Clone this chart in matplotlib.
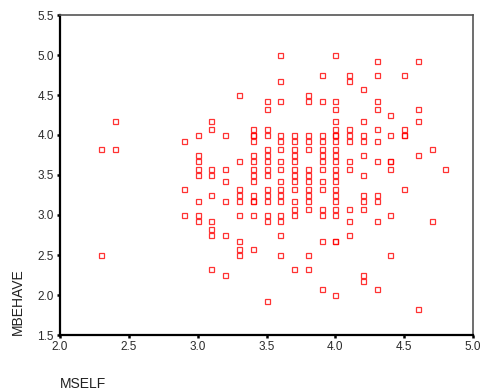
import matplotlib
matplotlib.use('Agg')
import matplotlib.pyplot as plt

# MSELF levels (x) and the MBEHAVE values observed at each level (y)
mself_levels = [2.3, 2.4, 2.9, 3.0, 3.1, 3.2, 3.3, 3.4, 3.5, 3.6, 3.7,
                3.8, 3.9, 4.0, 4.1, 4.2, 4.3, 4.4, 4.5, 4.6, 4.7, 4.8]
mbehave_by_level = [
    [3.83, 2.5],
    [4.17, 3.83],
    [3.92, 3.33, 3.0],
    [4.0, 3.75, 3.67, 3.58, 3.5, 3.17, 3.0, 2.92],
    [4.17, 4.08, 3.58, 3.5, 3.25, 2.92, 2.83, 2.75, 2.33],
    [4.0, 3.58, 3.42, 3.17, 2.75, 2.25],
    [4.5, 3.67, 3.33, 3.25, 3.17, 3.0, 2.67, 2.58, 2.5],
    [4.08, 4.0, 4.0, 3.92, 3.75, 3.67, 3.58, 3.5, 3.42, 3.25, 3.17, 3.17, 3.0, 2.58],
    [4.42, 4.33, 4.08, 4.0, 3.83, 3.75, 3.67, 3.58, 3.5, 3.33, 3.25, 3.17, 3.0, 2.92, 1.92],
    [5.0, 4.67, 4.42, 4.0, 3.92, 3.83, 3.67, 3.58, 3.42, 3.33, 3.25, 3.17, 3.0, 2.92, 2.75, 2.5],
    [4.0, 3.92, 3.83, 3.75, 3.67, 3.58, 3.5, 3.42, 3.33, 3.17, 3.08, 3.0, 2.33],
    [4.5, 4.42, 4.0, 3.92, 3.83, 3.58, 3.5, 3.42, 3.33, 3.25, 3.17, 3.08, 2.5, 2.33],
    [4.75, 4.42, 4.0, 3.92, 3.83, 3.75, 3.67, 3.58, 3.42, 3.33, 3.08, 3.0, 2.67, 2.08],
    [5.0, 4.42, 4.33, 4.17, 4.08, 4.0, 4.0, 3.92, 3.83, 3.75, 3.67, 3.58, 3.5, 3.42,
     3.33, 3.25, 3.17, 3.08, 3.0, 2.67, 2.67, 2.0],
    [4.75, 4.67, 4.08, 4.0, 3.92, 3.67, 3.58, 3.08, 2.92, 2.75],
    [4.58, 4.17, 4.0, 3.92, 3.75, 3.5, 3.25, 3.17, 3.08, 2.25, 2.17],
    [4.92, 4.75, 4.42, 4.33, 4.08, 3.92, 3.67, 3.25, 3.17, 2.92, 2.08],
    [4.25, 4.0, 3.67, 3.67, 3.58, 3.0, 2.5],
    [4.75, 4.08, 4.0, 4.0, 3.33],
    [4.92, 4.33, 4.17, 3.75, 1.83],
    [3.83, 2.92],
    [3.58],
]
x_ticks = [2.0, 2.5, 3.0, 3.5, 4.0, 4.5, 5.0]
y_ticks = [1.5, 2.0, 2.5, 3.0, 3.5, 4.0, 4.5, 5.0, 5.5]

mself = []
mbehave = []
for x, ys in zip(mself_levels, mbehave_by_level):
    for y in ys:
        mself.append(x)
        mbehave.append(y)

plt.rcParams['font.family'] = ['Liberation Sans', 'DejaVu Sans']

fig = plt.figure(figsize=(4.8, 3.9), dpi=100)
ax = fig.add_axes([60 / 480, 1 - 335 / 390, 413 / 480, 320 / 390])

ax.plot(mself, mbehave, linestyle='none', marker='s', markersize=3.6,
        markerfacecolor='none', markeredgecolor='#ff0000', markeredgewidth=0.9,
        alpha=0.8)

ax.set_xlim(2.0, 5.0)
ax.set_ylim(1.5, 5.5)
ax.set_xticks(x_ticks)
ax.set_yticks(y_ticks)
ax.set_xticklabels([f'{v:.1f}' for v in x_ticks])
ax.set_yticklabels([f'{v:.1f}' for v in y_ticks])
ax.tick_params(direction='out', length=2.5, width=1.8, color='black',
               labelsize=8.5, labelcolor='#2a2a2a', pad=2)

ax.spines['left'].set_linewidth(1.6)
ax.spines['bottom'].set_linewidth(1.6)
ax.spines['top'].set_color('#555555')
ax.spines['right'].set_color('#555555')
ax.spines['top'].set_linewidth(1.2)
ax.spines['right'].set_linewidth(1.2)

fig.text(18 / 480, 1 - 335 / 390, 'MBEHAVE', rotation=90, ha='center',
         va='bottom', fontsize=10, color='#222222')
fig.text(60 / 480, 1 - 388 / 390, 'MSELF', ha='left', va='baseline',
         fontsize=10, color='#222222')

fig.savefig('out.png', dpi=100)
